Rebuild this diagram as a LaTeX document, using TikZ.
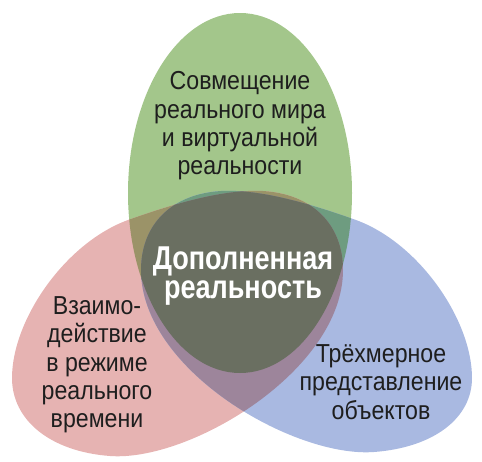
\documentclass[tikz,border=0pt]{standalone}
\usepackage{fontspec}
\usepackage{tikz}
\newfontfamily\lblfont{Liberation Sans}[FakeStretch=0.89]
\newfontfamily\ctrfont{Liberation Sans}[FakeStretch=0.82]

\definecolor{egggreen}{HTML}{A3C68B}
\definecolor{eggred}{HTML}{E6B3B2}
\definecolor{eggblue}{HTML}{A9B9E1}
\definecolor{greenred}{HTML}{9B9368}
\definecolor{greenblue}{HTML}{6E9C80}
\definecolor{redblue}{HTML}{9D859B}
\definecolor{allthree}{HTML}{6A6F61}
\definecolor{labeltext}{HTML}{1E1E1E}

\begin{document}
\begin{tikzpicture}[x=1pt,y=-1pt,
    lbl/.style={align=center,text=labeltext,inner sep=0pt,font=\lblfont\fontsize{26}{28.3}\selectfont},
    ctr/.style={align=center,text=white,inner sep=0pt,font=\ctrfont\bfseries\fontsize{33}{28.3}\selectfont}]

    \useasboundingbox (0,0) rectangle (482,461);

    % the three sets
    \def\greenegg{(240,193) ellipse [x radius=112, y radius=180]}
    \def\redegg{(12,378) .. controls (12,320) and (65,243) .. (128,220)
        .. controls (173,204) and (223,189) .. (263,191)
        .. controls (313,194) and (343,225) .. (343,270)
        .. controls (343,370) and (190,462) .. (110,456)
        .. controls (50,451.5) and (12,420) .. (12,378) -- cycle}
    \def\blueegg{(472,378) .. controls (472,320) and (419,243) .. (356,220)
        .. controls (311,204) and (261,189) .. (221,191)
        .. controls (171,194) and (141,225) .. (141,270)
        .. controls (141,370) and (294,458) .. (374,452)
        .. controls (434,447.5) and (472,418) .. (472,378) -- cycle}

    \fill[egggreen] \greenegg;
    \fill[eggred] \redegg;
    \fill[eggblue] \blueegg;

    % overlaps
    \begin{scope}
        \clip \redegg;
        \fill[greenred] \greenegg;
    \end{scope}
    \begin{scope}
        \clip \blueegg;
        \fill[greenblue] \greenegg;
    \end{scope}
    \begin{scope}
        \clip \redegg;
        \fill[redblue] \blueegg;
    \end{scope}
    \begin{scope}
        \clip \redegg;
        \clip \blueegg;
        \fill[allthree] \greenegg;
    \end{scope}

    % texts
    \node[lbl] (tgreen) at (240,126) {Совмещение\\реального мира\\и виртуальной\\реальности};
    \node[lbl] (tred) at (97,365) {Взаимо-\\действие\\в режиме\\реального\\времени};
    \node[lbl] (tblue) at (381,382) {Трёхмерное\\представление\\объектов};
    \node[ctr] (tcenter) at (243,276) {Дополненная\\реальность};

\end{tikzpicture}
\end{document}
